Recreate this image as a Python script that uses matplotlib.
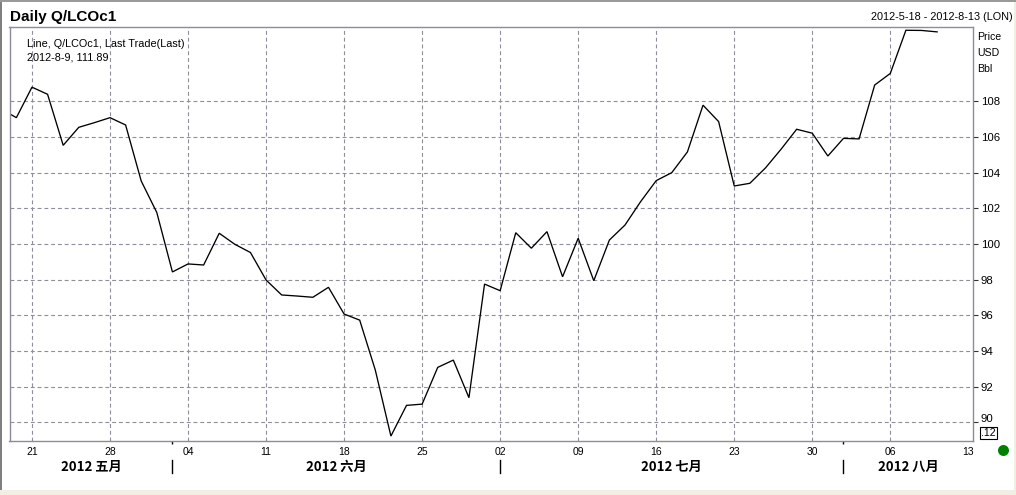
import matplotlib
matplotlib.use("Agg")
import matplotlib.pyplot as plt
import matplotlib.transforms as mtransforms
from matplotlib.patches import Rectangle, Ellipse
import numpy as np

plt.rcParams['font.family'] = ['Liberation Sans', 'DejaVu Sans']

# ---- data ----
dates = ["2012-05-17", "2012-05-18",
         "2012-05-21", "2012-05-22", "2012-05-23", "2012-05-24", "2012-05-25",
         "2012-05-28", "2012-05-29", "2012-05-30", "2012-05-31", "2012-06-01",
         "2012-06-04", "2012-06-05", "2012-06-06", "2012-06-07", "2012-06-08",
         "2012-06-11", "2012-06-12", "2012-06-13", "2012-06-14", "2012-06-15",
         "2012-06-18", "2012-06-19", "2012-06-20", "2012-06-21", "2012-06-22",
         "2012-06-25", "2012-06-26", "2012-06-27", "2012-06-28", "2012-06-29",
         "2012-07-02", "2012-07-03", "2012-07-04", "2012-07-05", "2012-07-06",
         "2012-07-09", "2012-07-10", "2012-07-11", "2012-07-12", "2012-07-13",
         "2012-07-16", "2012-07-17", "2012-07-18", "2012-07-19", "2012-07-20",
         "2012-07-23", "2012-07-24", "2012-07-25", "2012-07-26", "2012-07-27",
         "2012-07-30", "2012-07-31", "2012-08-01", "2012-08-02", "2012-08-03",
         "2012-08-06", "2012-08-07", "2012-08-08", "2012-08-09"]
prices = [107.58, 107.08,
          108.79, 108.39, 105.53, 106.54, 106.80,
          107.08, 106.67, 103.53, 101.76, 98.43,
          98.88, 98.82, 100.60, 99.98, 99.52,
          97.98, 97.14, 97.08, 97.01, 97.57,
          96.07, 95.73, 92.93, 89.23, 90.95,
          91.02, 93.08, 93.49, 91.38, 97.75,
          97.38, 100.63, 99.76, 100.69, 98.16,
          100.32, 97.94, 100.22, 101.06, 102.37,
          103.55, 104.00, 105.16, 107.78, 106.86,
          103.25, 103.40, 104.26, 105.31, 106.43,
          106.21, 104.93, 105.92, 105.89, 108.91,
          109.56, 111.98, 111.97, 111.89]
week_labels = ["21", "28", "04", "11", "18", "25", "02", "09", "16", "23", "30", "06", "13"]
month_labels = ["2012 五月", "2012 六月", "2012 七月", "2012 八月"]
month_starts = ["2012-06-01", "2012-07-02", "2012-08-01"]
y_ticks = [90, 92, 94, 96, 98, 100, 102, 104, 106, 108]

W, H = 1016, 495
def fx(x): return x / W
def fy(y): return 1 - y / H

fig = plt.figure(figsize=(W / 100, H / 100), dpi=100, facecolor='#F1EFE2')
# white panel and frame
fig.patches.append(Rectangle((fx(0), fy(490)), fx(1014), 490 / H, transform=fig.transFigure,
                             facecolor='white', edgecolor='none', zorder=-10))
fig.patches.append(Rectangle((0, fy(490)), fx(2), 490 / H, transform=fig.transFigure,
                             facecolor='#7F7F7F', edgecolor='none', zorder=-9))
fig.patches.append(Rectangle((0, fy(1.5)), 1, 1.5 / H, transform=fig.transFigure,
                             facecolor='#9A9A9A', edgecolor='none', zorder=-9))

L, R, T, B = 9.5, 973, 26.7, 440.7
ax = fig.add_axes([fx(L), fy(B), (R - L) / W, (B - T) / H])
ax.set_facecolor('white')

x = np.arange(len(dates))
ax.plot(x, prices, color='black', lw=0.95, solid_joinstyle='miter')

i0 = dates.index("2012-05-21")
week_pos = [i0 + 5 * k for k in range(len(week_labels))]
ax.set_xlim(i0 - 1.44, i0 + 60.3)
ax.set_ylim(88.97, 112.18)

grid_kw = dict(color='#8E8E9C', lw=0.8, linestyle=(0, (3.5, 2.6)), zorder=0)
for p in week_pos[:-1]:
    ax.axvline(p, **grid_kw)
for v in y_ticks:
    ax.axhline(v, **grid_kw)

for s in ax.spines.values():
    s.set_color('#8C8C9C')
    s.set_linewidth(1.0)

ax.set_xticks(week_pos)
ax.set_xticklabels(week_labels, fontsize=7.5)
ax.tick_params(axis='x', length=0, pad=4.5, colors='black')
ms_pos = [dates.index(d) for d in month_starts]
ax.set_xticks(ms_pos, minor=True)
ax.tick_params(axis='x', which='minor', length=2.5, width=1, color='black', direction='out')

ax.yaxis.tick_right()
ax.set_yticks(y_ticks)
ax.set_yticklabels([str(v) for v in y_ticks], fontsize=8.2)
ax.tick_params(axis='y', length=3.5, width=0.8, pad=2, color='#333333')
for lbl in ax.get_yticklabels():
    if lbl.get_text() == '90':
        lbl.set_transform(lbl.get_transform() + mtransforms.ScaledTranslation(0, 4 / 100, fig.dpi_scale_trans))

trans = mtransforms.blended_transform_factory(ax.transData, ax.transAxes)
def ay(y): return (B - y) / (B - T)
for p in ms_pos:
    ax.plot([p, p], [ay(460), ay(473)], transform=trans, color='black', lw=1.0, clip_on=False)
bounds = [ax.get_xlim()[0]] + ms_pos + [ax.get_xlim()[1]]
for k, lab in enumerate(month_labels):
    cx = (bounds[k] + bounds[k + 1]) / 2
    ax.text(cx, ay(467), lab, transform=trans, ha='center', va='center', fontsize=9.5,
            fontweight='bold', family=['Noto Sans CJK SC', 'DejaVu Sans'])

# texts
fig.text(fx(10), fy(21), 'Daily Q/LCOc1', fontsize=11, fontweight='bold', va='baseline', ha='left')
fig.text(fx(1013), fy(20), '2012-5-18 - 2012-8-13 (LON)', fontsize=7.8, va='baseline', ha='right')
fig.text(fx(27), fy(47), 'Line, Q/LCOc1, Last Trade(Last)', fontsize=7.8, va='baseline', ha='left')
fig.text(fx(27), fy(60), '2012-8-9, 111.89', fontsize=7.8, va='baseline', ha='left')
for lab, yb in zip(['Price', 'USD', 'Bbl'], [40, 56, 72]):
    fig.text(fx(977), fy(yb), lab, fontsize=7.6, va='baseline', ha='left')
fig.text(fx(988.5), fy(433), '.12', fontsize=7.6, va='center', ha='center',
         bbox=dict(boxstyle='square,pad=0.12', facecolor='white', edgecolor='black', lw=0.8))

fig.patches.append(Ellipse((fx(1003.5), fy(450.5)), 11 / W, 11 / H, transform=fig.transFigure,
                           facecolor='#008000', edgecolor='none'))

fig.savefig('out.png', dpi=100, facecolor=fig.get_facecolor())
